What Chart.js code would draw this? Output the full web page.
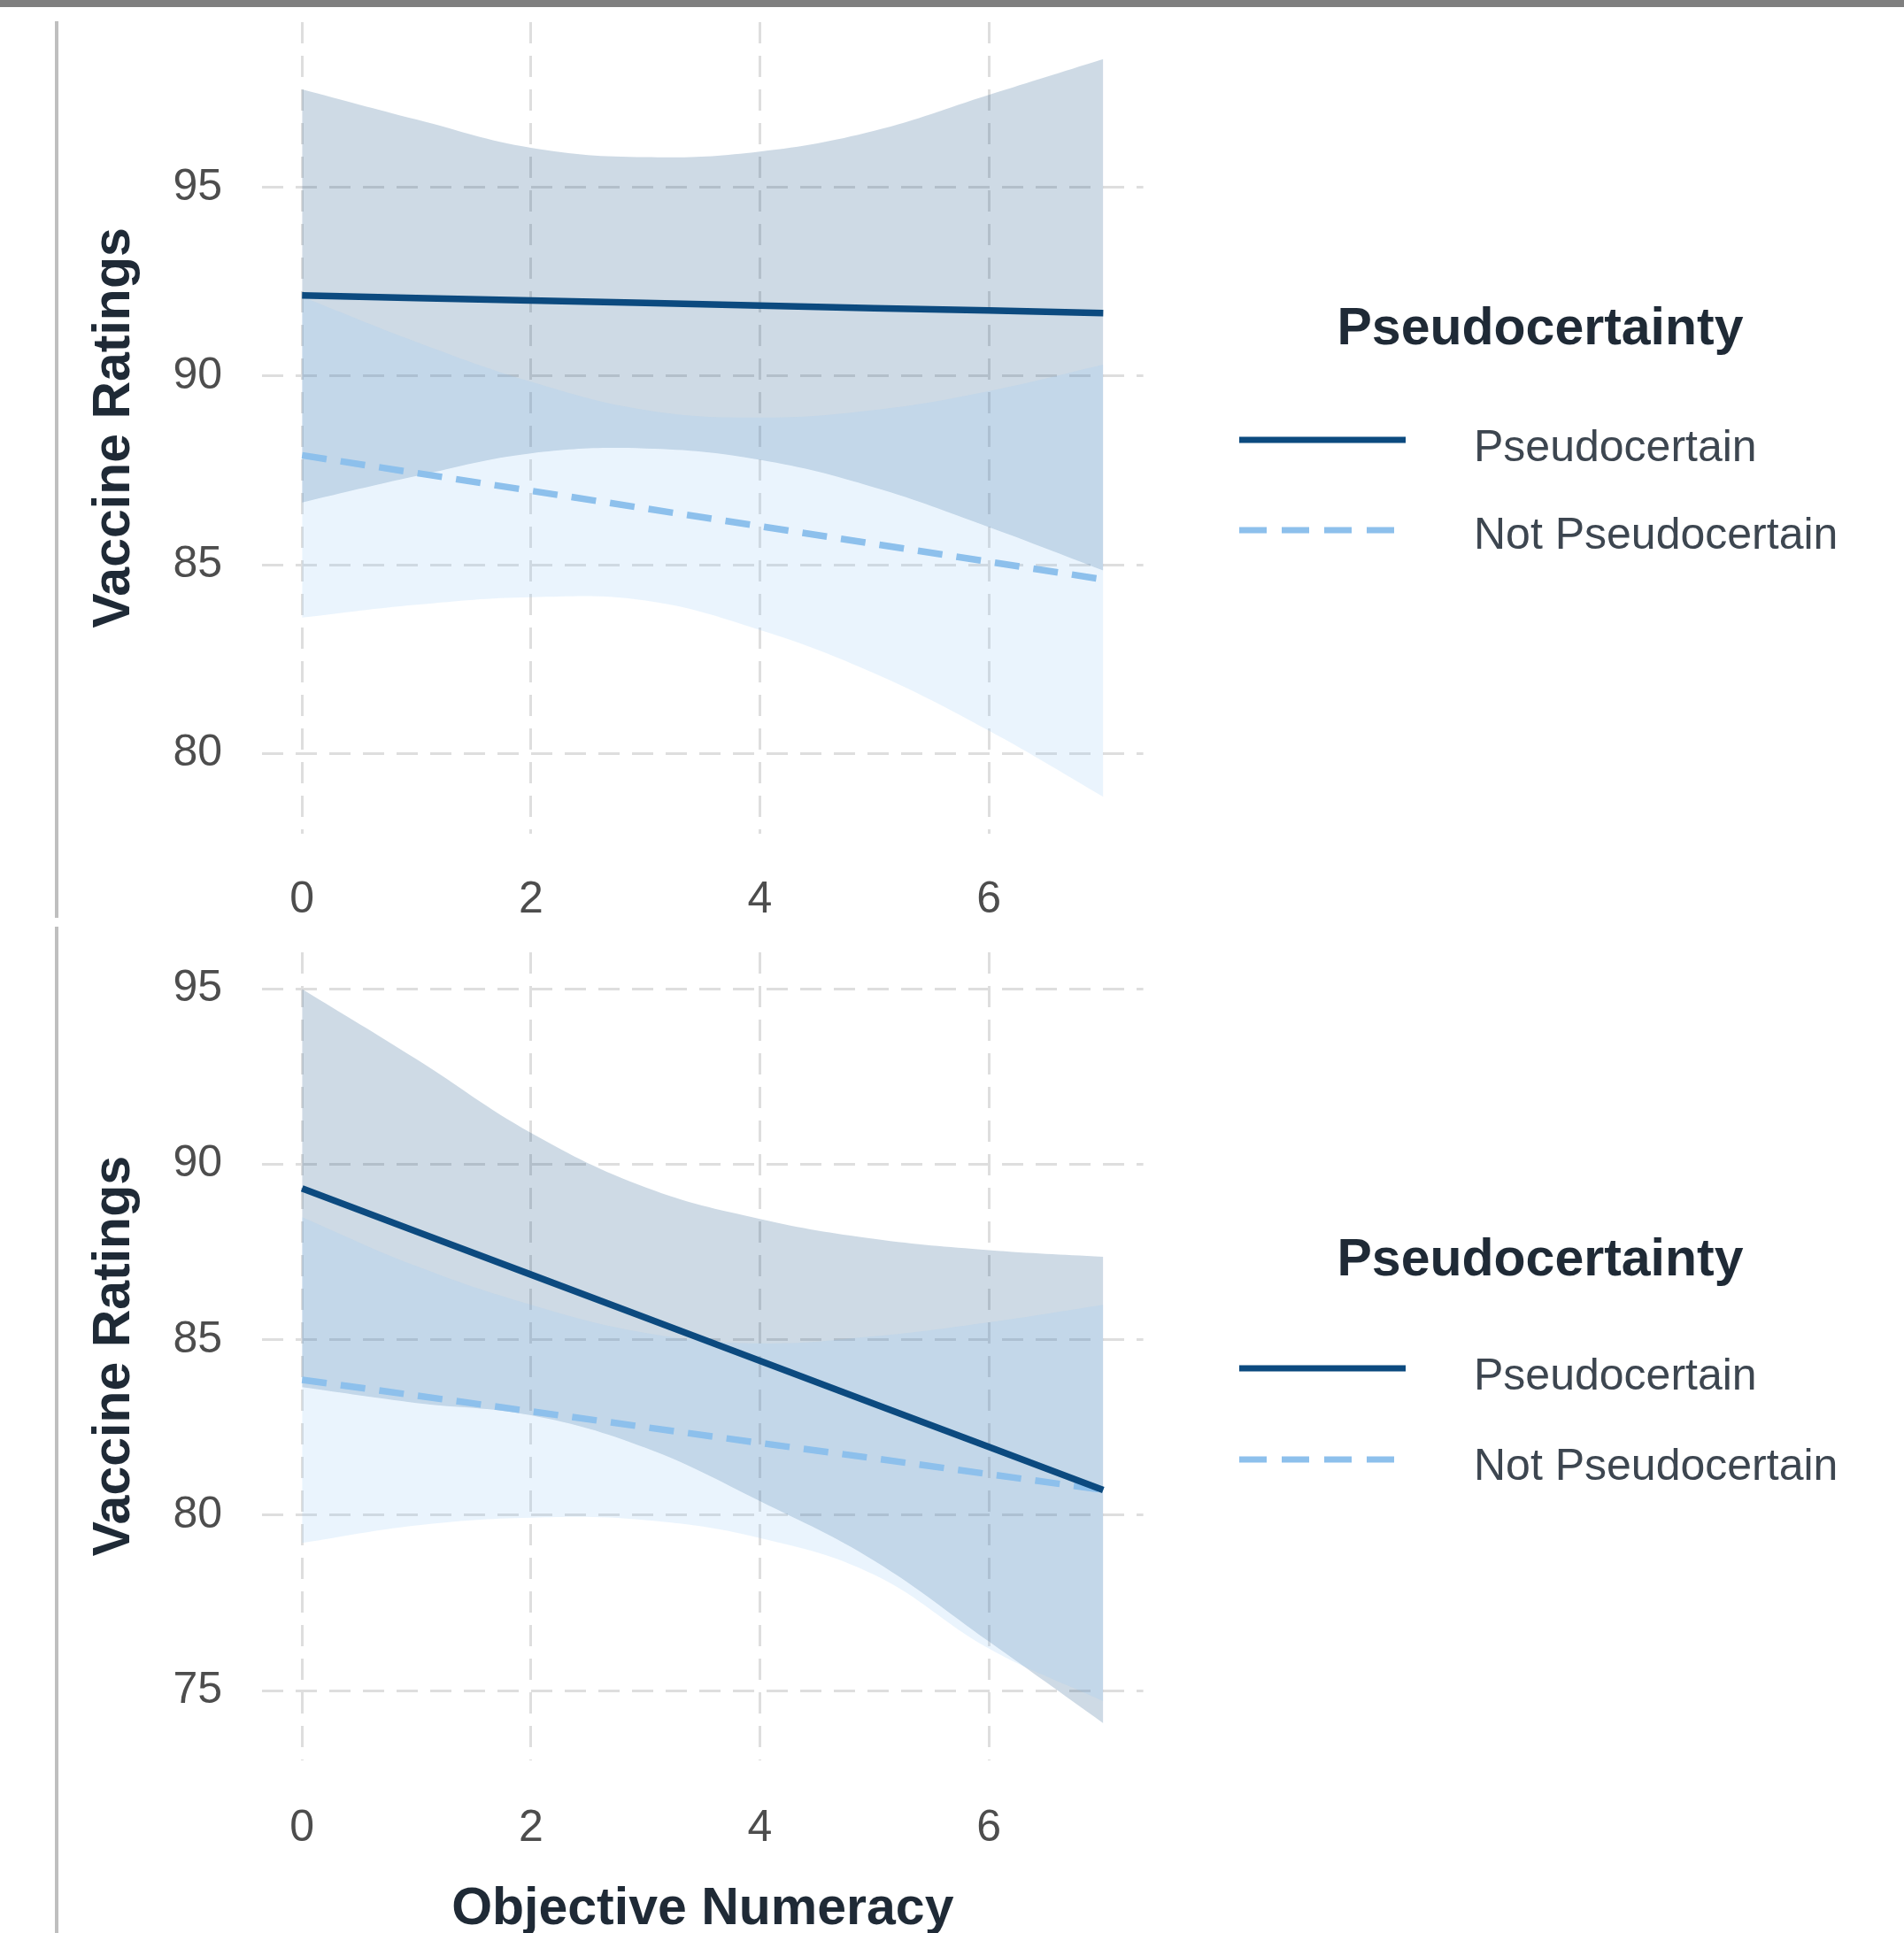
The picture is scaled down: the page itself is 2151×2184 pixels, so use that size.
<!DOCTYPE html>
<html>
<head>
<meta charset="utf-8">
<script src="https://cdn.jsdelivr.net/npm/chart.js@4.4.0/dist/chart.umd.min.js"></script>
<style>
html,body{margin:0;padding:0;background:#fff;}
body{width:2151px;height:2184px;position:relative;overflow:hidden;font-family:'Liberation Sans',Arial,sans-serif;}
#topbar{position:absolute;left:0;top:0;width:2151px;height:8px;background:#7f7f7f;z-index:5;}
.vline{position:absolute;left:62px;width:4px;background:#bfbfbf;}
canvas{position:absolute;left:0;}
.ltitle{position:absolute;font-weight:bold;font-size:59px;line-height:1;color:#1f2a36;white-space:nowrap;transform:translate(-50%,-50%);}
.llabel{position:absolute;font-size:50px;line-height:1;color:#3d4650;white-space:nowrap;transform:translateY(-50%);}
svg.key{position:absolute;overflow:visible;}
</style>
</head>
<body>
<div id="topbar"></div>
<div class="vline" style="top:24px;height:1013px;"></div>
<div class="vline" style="top:1047px;height:1137px;"></div>
<canvas id="c1" width="1300" height="1093" style="top:-50px;width:1300px;height:1093px;"></canvas>
<canvas id="c2" width="1300" height="1202" style="top:1000px;width:1300px;height:1202px;"></canvas>
<div id="legends"></div>
<script>
// ---- data ----
const numeracy = [0, 1, 2, 3, 4, 5, 6, 7];
const xTicks = [0, 2, 4, 6];
const yTicksTop = [80, 85, 90, 95];
const yTicksBottom = [75, 80, 85, 90, 95];
const seriesNames = ['Pseudocertain', 'Not Pseudocertain'];
const legendTitle = 'Pseudocertainty';
const xTitle = 'Objective Numeracy';
const yTitle = 'Vaccine Ratings';

// top panel
const pcLine1  = [92.14, 92.07, 92.00, 91.94, 91.87, 91.80, 91.74, 91.67];
const pcUpper1 = [97.60, 96.80, 96.05, 95.80, 95.95, 96.50, 97.45, 98.40];
const pcLower1 = [86.65, 87.35, 87.95, 88.08, 87.78, 87.05, 86.00, 84.85];
const npLine1  = [87.90, 87.43, 86.96, 86.49, 86.02, 85.55, 85.08, 84.61];
const npUpper1 = [92.10, 90.90, 89.85, 89.10, 88.90, 89.10, 89.60, 90.30];
const npLower1 = [83.60, 83.94, 84.14, 84.05, 83.27, 82.12, 80.60, 78.85];

// bottom panel
const pcLine2  = [89.32, 88.09, 86.86, 85.63, 84.40, 83.17, 81.95, 80.72];
const pcUpper2 = [95.00, 93.00, 90.90, 89.35, 88.45, 87.88, 87.56, 87.37];
const pcLower2 = [83.65, 83.20, 82.85, 81.92, 80.40, 78.70, 76.40, 74.07];
const npLine2  = [83.86, 83.41, 82.96, 82.51, 82.06, 81.62, 81.17, 80.72];
const npUpper2 = [88.50, 87.10, 86.00, 85.20, 84.90, 85.10, 85.50, 86.00];
const npLower2 = [79.21, 79.71, 79.93, 79.86, 79.35, 78.30, 76.20, 74.70];

// ---- styles ----
const DARK = '#0C4A7F';
const LIGHT = '#8DC0EC';
const DARK_BAND = 'rgba(8,69,126,0.2)';
const LIGHT_BAND = 'rgba(150,200,245,0.2)';
const FONT = "'Liberation Sans', Arial, sans-serif";
const GRID = '#dedede';
const DASH = [28, 16];

function pts(ys) { return numeracy.map((x, i) => ({x: x, y: ys[i]})); }

function panel(id, d, yMin, yMax, yTicks, xAxisH, xTickPad, showXTitle, areaTop, areaH) {
  const bandBase = {borderColor: 'rgba(0,0,0,0)', borderWidth: 0, pointRadius: 0, tension: 0.4};
  const canvas = document.getElementById(id);
  const chart = new Chart(canvas, {
    type: 'line',
    data: {
      datasets: [
        {label: seriesNames[0], data: pts(d.pcLine), borderColor: DARK, borderWidth: 7.5, pointRadius: 0, tension: 0, fill: false, order: 0},
        {label: seriesNames[1], data: pts(d.npLine), borderColor: LIGHT, borderWidth: 7.5, borderDash: DASH, pointRadius: 0, tension: 0, fill: false, order: 1},
        Object.assign({label: 'np upper', data: pts(d.npUpper), fill: 3, backgroundColor: LIGHT_BAND, order: 2}, bandBase),
        Object.assign({label: 'np lower', data: pts(d.npLower), fill: false, order: 3}, bandBase),
        Object.assign({label: 'pc upper', data: pts(d.pcUpper), fill: 5, backgroundColor: DARK_BAND, order: 4}, bandBase),
        Object.assign({label: 'pc lower', data: pts(d.pcLower), fill: false, order: 5}, bandBase)
      ]
    },
    options: {
      responsive: false,
      animation: false,
      devicePixelRatio: 1,
      events: [],
      layout: {padding: {top: 0, right: 8.4, left: 0, bottom: 0}},
      plugins: {
        legend: {display: false},
        tooltip: {enabled: false},
        filler: {drawTime: 'beforeDatasetDraw'}
      },
      scales: {
        x: {
          type: 'linear', min: -0.35, max: 7.35,
          afterBuildTicks: s => { s.ticks = xTicks.map(v => ({value: v})); },
          afterFit: s => { s.height = xAxisH; },
          ticks: {padding: xTickPad, color: '#4d4d4d', font: {family: FONT, size: 50}, maxRotation: 0, autoSkip: false},
          grid: {color: GRID, lineWidth: 3, drawTicks: false},
          border: {display: false, dash: [24, 14]},
          title: {display: showXTitle, text: xTitle, color: '#1f2a36', font: {family: FONT, size: 59, weight: 'bold'}, padding: {top: 0, bottom: 10}}
        },
        y: {
          type: 'linear', min: yMin, max: yMax,
          afterBuildTicks: s => { s.ticks = yTicks.map(v => ({value: v})); },
          afterFit: s => { s.width = 296; },
          ticks: {padding: 45, color: '#4d4d4d', font: {family: FONT, size: 50}, autoSkip: false},
          grid: {color: GRID, lineWidth: 3, drawTicks: false},
          border: {display: false, dash: [24, 14]},
          title: {display: true, text: yTitle, color: '#1f2a36', font: {family: FONT, size: 59, weight: 'bold'}, padding: {top: 94, bottom: 0}}
        }
      }
    }
  });
  // size the canvas so that the plotting area has the wanted height, then place it on the page
  const t = chart.chartArea.top;
  const h = Math.round(t + areaH + xAxisH);
  if (h !== chart.height) chart.resize(1300, h);
  canvas.style.top = (areaTop - chart.chartArea.top) + 'px';
  return chart;
}

panel('c1', {pcLine: pcLine1, pcUpper: pcUpper1, pcLower: pcLower1, npLine: npLine1, npUpper: npUpper1, npLower: npLower1},
      77.87, 99.38, yTicksTop, 101, 45, false, 24.8, 917);
panel('c2', {pcLine: pcLine2, pcUpper: pcUpper2, pcLower: pcLower2, npLine: npLine2, npUpper: npUpper2, npLower: npLower2},
      73.02, 96.05, yTicksBottom, 214.5, 48, true, 1075.8, 912.5);

// ---- legends ----
function legend(titleY, solidY, solidLabelY, dashY, dashLabelY) {
  const L = document.getElementById('legends');
  const t = document.createElement('div');
  t.className = 'ltitle'; t.style.left = '1740px'; t.style.top = titleY + 'px'; t.textContent = legendTitle;
  L.appendChild(t);
  const keys = [[solidY, DARK, '', seriesNames[0], solidLabelY], [dashY, LIGHT, '31 17', seriesNames[1], dashLabelY]];
  keys.forEach(k => {
    const svg = document.createElementNS('http://www.w3.org/2000/svg', 'svg');
    svg.setAttribute('class', 'key');
    svg.setAttribute('width', '190'); svg.setAttribute('height', '20');
    svg.style.left = '1400px'; svg.style.top = (k[0] - 10) + 'px';
    const ln = document.createElementNS('http://www.w3.org/2000/svg', 'line');
    ln.setAttribute('x1', '0'); ln.setAttribute('x2', '188'); ln.setAttribute('y1', '10'); ln.setAttribute('y2', '10');
    ln.setAttribute('stroke', k[1]); ln.setAttribute('stroke-width', '7');
    if (k[2]) ln.setAttribute('stroke-dasharray', k[2]);
    svg.appendChild(ln);
    L.appendChild(svg);
    const lab = document.createElement('div');
    lab.className = 'llabel'; lab.style.left = '1665px'; lab.style.top = k[4] + 'px'; lab.textContent = k[3];
    L.appendChild(lab);
  });
}
legend(369, 497, 504, 599, 603);
legend(1421, 1546, 1553, 1649, 1655);
</script>
</body>
</html>
